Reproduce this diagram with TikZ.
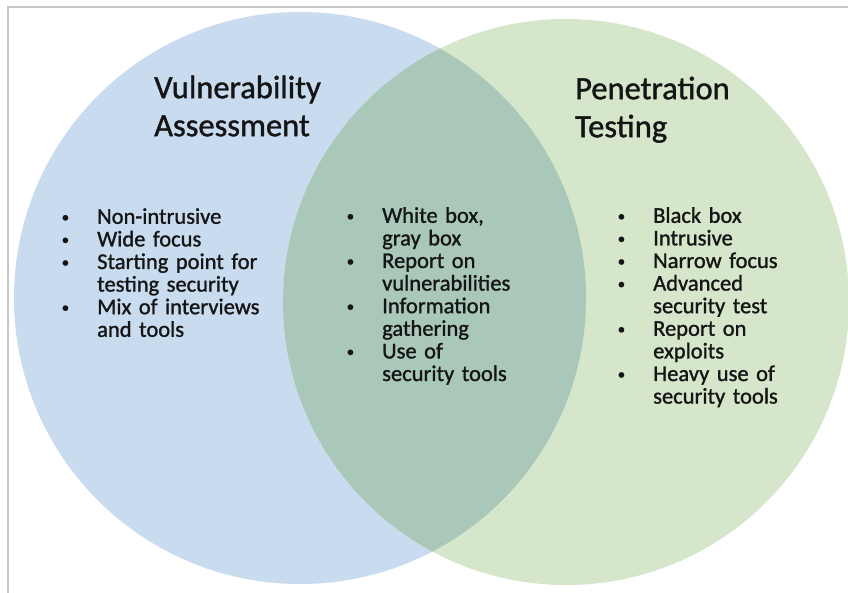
\documentclass[tikz,border=0pt]{standalone}
\usepackage{fontspec}
\setmainfont{Carlito}
\newfontfamily\inkfont{Carlito}[FakeBold=1.2]
\definecolor{vablue}{HTML}{C9DBEF}
\definecolor{ptgreen}{HTML}{D5E6CB}
\definecolor{both}{HTML}{A9C8B9}
\definecolor{ink}{HTML}{151515}
\definecolor{framegray}{HTML}{C8C8C8}
\newcommand\bitem[1]{\par\hangindent=33pt\hangafter=1\noindent\makebox[33pt][l]{\rule{0pt}{15pt}\hspace{-2.5pt}\raisebox{1.8pt}{\fontsize{15}{15}\selectfont\textbullet}}#1\par}
\tikzset{
  listtext/.style={anchor=north west, inner sep=0pt, text width=215pt, text=ink, font=\inkfont\fontsize{22.5}{22.6}\selectfont},
  titletext/.style={anchor=north west, inner sep=0pt, align=left, text=ink, font=\inkfont\fontsize{32.5}{38}\selectfont},
  frameline/.style={draw=framegray, line width=1.2pt}
}
\begin{document}
\begin{tikzpicture}[x=1pt,y=-1pt]
\useasboundingbox (0,0) rectangle (848,593);
\fill[white] (0,0) rectangle (848,593);
\coordinate (cl) at (300,298);
\coordinate (cr) at (566,302);
\coordinate (ftl) at (8,7);
\coordinate (ftr) at (848,7);
\coordinate (fbl) at (8,593);
\draw[frameline] (fbl) -- (ftl) -- (ftr);
\fill[vablue] (cl) circle[radius=286];
\fill[ptgreen] (cr) circle[radius=283];
\begin{scope}
  \clip (cl) circle[radius=286];
  \fill[both] (cr) circle[radius=283];
\end{scope}
\node[titletext] (vatitle) at (154,73) {\rule{0pt}{25pt}Vulnerability\\Assessment};
\node[titletext] (pttitle) at (575,74) {\rule{0pt}{25pt}Penetration\\Testing};
\node[listtext] (valist) at (64,201) {%
  \bitem{Non-intrusive}
  \bitem{Wide focus}
  \bitem{Starting point for\newline testing security}
  \bitem{Mix of interviews\newline and tools}};
\node[listtext] (bothlist) at (349,200) {%
  \bitem{White box,\newline gray box}
  \bitem{Report on\newline vulnerabilities}
  \bitem{Information\newline gathering}
  \bitem{Use of\newline security tools}};
\node[listtext] (ptlist) at (620,200) {%
  \bitem{Black box}
  \bitem{Intrusive}
  \bitem{Narrow focus}
  \bitem{Advanced\newline security test}
  \bitem{Report on\newline exploits}
  \bitem{Heavy use of\newline security tools}};
\end{tikzpicture}
\end{document}
